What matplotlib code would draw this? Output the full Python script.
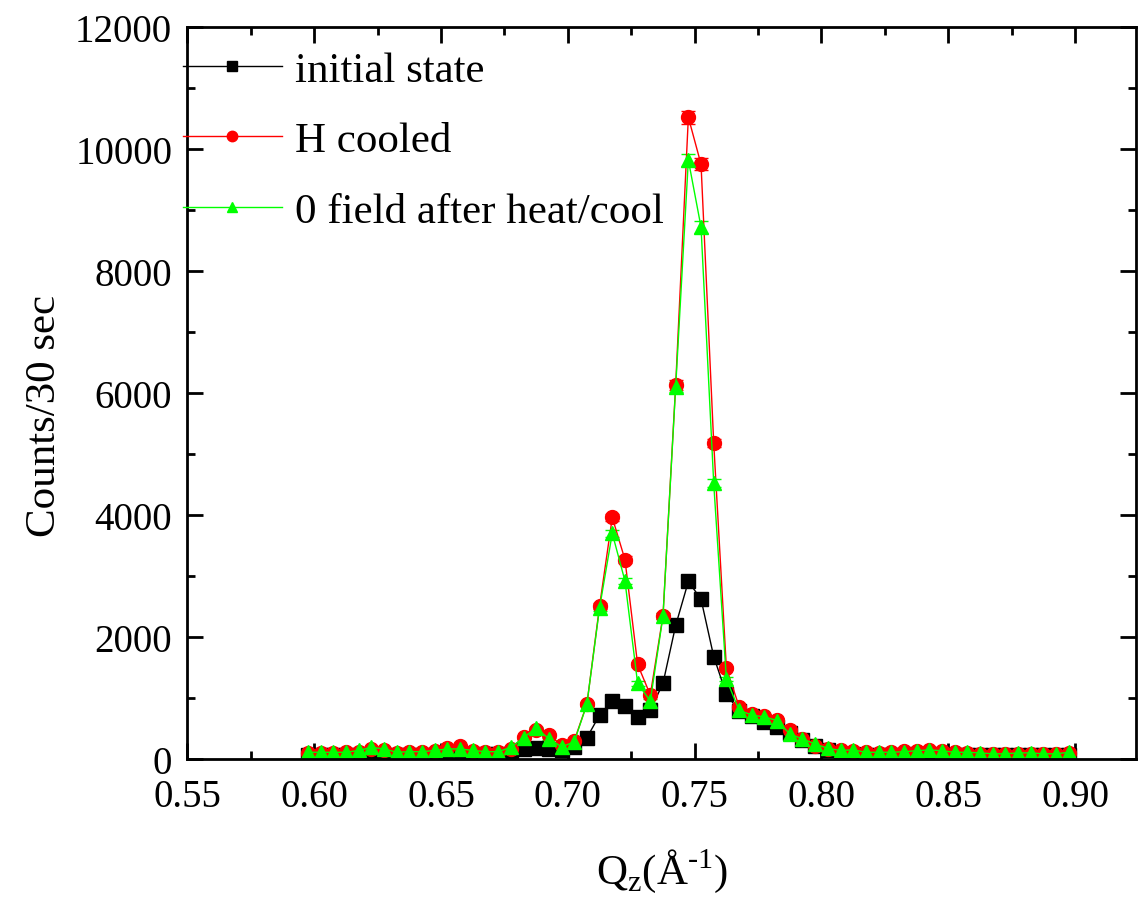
import numpy as np
import matplotlib
matplotlib.use("Agg")
import matplotlib.pyplot as plt
from matplotlib.ticker import MultipleLocator
from matplotlib.lines import Line2D

plt.rcParams['font.family'] = ['Liberation Serif', 'DejaVu Serif']
plt.rcParams['mathtext.fontset'] = 'custom'
plt.rcParams['mathtext.rm'] = 'Liberation Serif'

# Q_z positions (1/A), 0.005 steps
qz = [0.5975 + 0.005 * i for i in range(61)]

initial_state = [60, 60, 60, 60, 70, 60, 60, 60, 60, 70,
                 60, 60, 60, 70, 80, 80, 90, 170, 180, 170,
                 140, 200, 350, 720, 950, 870, 690, 800, 1240, 2190,
                 2910, 2620, 1680, 1060, 790, 710, 600, 520, 430, 310,
                 210, 150, 90, 90, 70, 70, 70, 70, 80, 80,
                 70, 70, 70, 60, 60, 60, 60, 60, 60, 60, 60]

h_cooled = [100, 100, 100, 110, 120, 170, 150, 100, 110, 110,
            130, 180, 210, 130, 120, 110, 170, 360, 470, 390,
            230, 300, 900, 2510, 3960, 3270, 1550, 1050, 2350, 6130,
            10520, 9750, 5180, 1490, 860, 740, 700, 640, 470, 320,
            220, 165, 140, 130, 110, 100, 110, 130, 130, 140,
            130, 110, 100, 90, 80, 75, 90, 90, 75, 80, 100]

zero_field = [110, 110, 110, 110, 140, 190, 165, 110, 120, 120,
              140, 165, 165, 140, 120, 120, 190, 350, 510, 330,
              200, 280, 900, 2480, 3700, 2920, 1240, 950, 2340, 6100,
              9820, 8720, 4520, 1310, 800, 720, 690, 630, 410, 330,
              245, 175, 140, 150, 110, 110, 110, 120, 135, 150,
              135, 110, 110, 100, 85, 85, 100, 100, 85, 85, 110]

series = [
    ("initial state", initial_state, "black", "s"),
    ("H cooled", h_cooled, "#ff0000", "o"),
    ("0 field after heat/cool", zero_field, "#00ff00", "^"),
]

fig = plt.figure(figsize=(11.41, 9.04), dpi=100)
ax = fig.add_axes([0.1643, 0.1593, 0.8313, 0.8097])

handles = []
for label, vals, col, mk in series:
    vals = np.array(vals, dtype=float)
    # counting statistics
    ax.errorbar(qz, vals, yerr=np.sqrt(vals), color=col, marker=mk,
                markersize=10, linewidth=1.0, elinewidth=1.0,
                capsize=5, capthick=1.0)
    handles.append(Line2D([], [], color=col, marker=mk, markersize=7.5,
                          linewidth=1.0, label=label))

ax.set_xlim(0.55, 0.924)
ax.set_ylim(0, 12000)
ax.xaxis.set_major_locator(MultipleLocator(0.05))
ax.xaxis.set_minor_locator(MultipleLocator(0.025))
ax.yaxis.set_major_locator(MultipleLocator(2000))
ax.yaxis.set_minor_locator(MultipleLocator(1000))
ax.xaxis.set_major_formatter(plt.FuncFormatter(lambda v, p: f"{v:.2f}"))

ax.tick_params(which='both', direction='in', top=True, right=True,
               width=2, labelsize=28)
ax.tick_params(axis='y', pad=11)
ax.tick_params(axis='x', pad=14)
ax.tick_params(which='major', length=11.5)
ax.tick_params(which='minor', length=6)
for sp in ax.spines.values():
    sp.set_linewidth(2)

ax.set_ylabel("Counts/30 sec", fontsize=31)
ax.yaxis.set_label_coords(-0.13, 0.47)
ax.set_xlabel(r"Q$_\mathregular{z}$(Å$^\mathregular{\text{-}1}$)", fontsize=31)
ax.xaxis.set_label_coords(0.5, -0.119)

ax.legend(handles=handles, loc='upper left', frameon=False,
          bbox_to_anchor=(-0.005, 0.967), borderpad=0, borderaxespad=0,
          fontsize=31, handlelength=2.3, handletextpad=0.3,
          labelspacing=0.72)

fig.savefig("out.png", dpi=100)
